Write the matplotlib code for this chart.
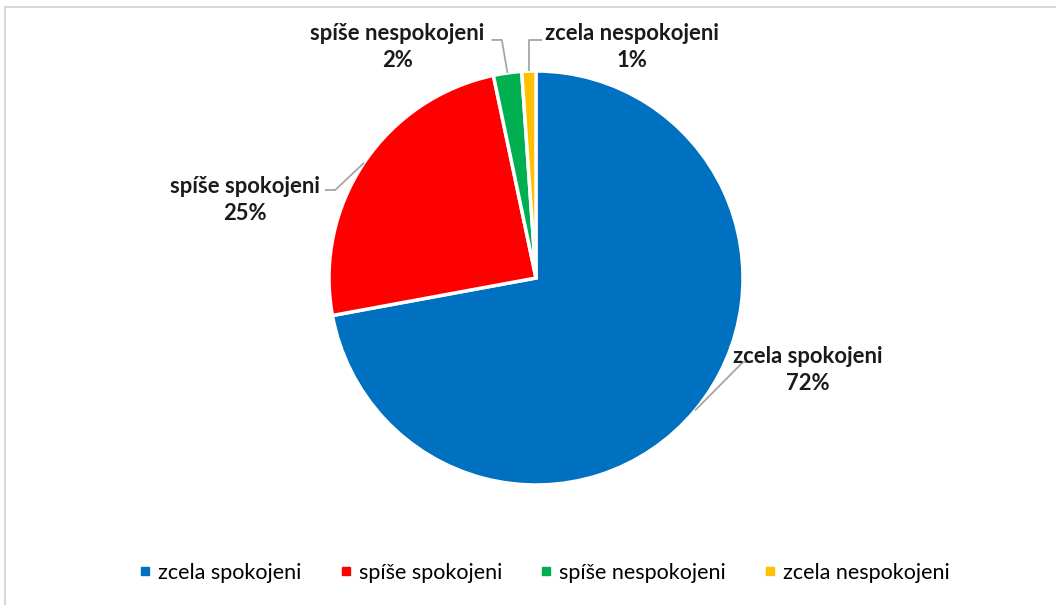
import numpy as np
import matplotlib.pyplot as plt
from matplotlib.lines import Line2D
from matplotlib.patches import Rectangle

labels = ['zcela spokojeni', 'spíše spokojeni', 'spíše nespokojeni', 'zcela nespokojeni']
values = [72.1, 24.6, 2.2, 1.1]
shown_pct = ['72%', '25%', '2%', '1%']
colors = ['#0070C0', '#FF0000', '#00B050', '#FFC000']

# label text centres (data units, pie radius = 1)
text_pos = [(1.314, -0.444), (-1.406, 0.377), (-0.671, 1.116), (0.464, 1.116)]

W, H = 1056, 605
cx, cy, R = 536, 278, 207

fig = plt.figure(figsize=(W / 100, H / 100), dpi=100)
fig.patches.append(Rectangle((5 / W, -0.1), 1.2, 1 - 7 / H + 0.1, transform=fig.transFigure,
                             fill=False, edgecolor='#d9d9d9', lw=1.5))
ax = fig.add_axes([0, 0, 1, 1])

wedges, _ = ax.pie(values, colors=colors, startangle=90, counterclock=False,
                   wedgeprops=dict(edgecolor='white', linewidth=2.5))
ax.set_xlim(-cx / R, (W - cx) / R)
ax.set_ylim(-(H - cy) / R, cy / R)
ax.set_aspect('equal')
ax.axis('off')

fam = ['Lato', 'DejaVu Sans']
for w, lab, pct, (tx, ty) in zip(wedges, labels, shown_pct, text_pos):
    mid = np.deg2rad((w.theta1 + w.theta2) / 2)
    ex, ey = np.cos(mid), np.sin(mid)
    ax.text(tx, ty, lab + '\n' + pct, ha='center', va='center', fontsize=15.8,
            fontweight='bold', family=fam, linespacing=1.38, color='#1a1a1a')
    # leader line: from wedge edge to an elbow near the text
    if lab == 'zcela spokojeni':
        pts = [(ex, ey), (1.0, -0.406), (1.048, -0.406)]
    elif lab == 'spíše spokojeni':
        pts = [(ex, ey), (-0.97, 0.425), (-1.02, 0.425)]
    elif lab == 'spíše nespokojeni':
        pts = [(ex, ey), (-0.165, 1.15), (-0.215, 1.15)]
    else:
        pts = [(ex, ey), (ex, 1.15), (0.03, 1.15)]
    xs, ys = zip(*pts)
    ax.plot(xs, ys, color='#a6a6a6', lw=1.3, solid_capstyle='butt')

handles = [Line2D([], [], marker='s', ls='', color=c, markersize=5.5) for c in colors]
fig.legend(handles, labels, loc='center', bbox_to_anchor=(542 / W, 1 - 573 / H), ncol=4,
           frameon=False, prop={'family': fam, 'size': 15.5}, handletextpad=0.1,
           columnspacing=1.55, handlelength=1.0)

fig.savefig('out.png', dpi=100)
